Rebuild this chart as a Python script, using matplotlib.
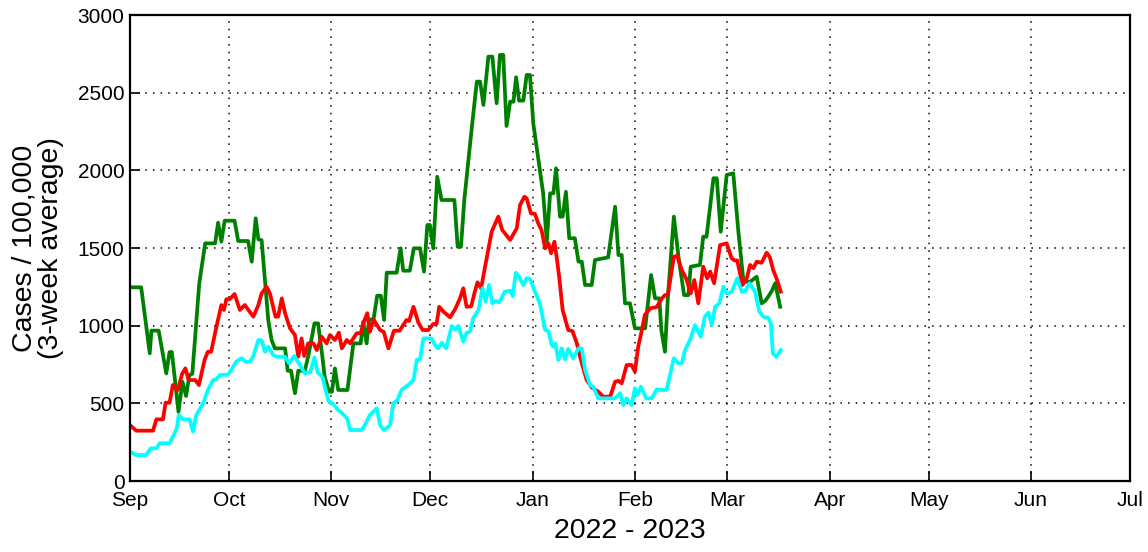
import numpy as np
import pandas as pd
import matplotlib
matplotlib.use("Agg")
import matplotlib.pyplot as plt
import matplotlib.dates as mdates

plt.rcParams['font.family'] = ['Liberation Sans', 'DejaVu Sans']

start = pd.Timestamp('2022-09-01')

# days after 1 Sep 2022
green_days = [0, 3.4, 6, 6.5, 8.7, 11, 12, 12.7, 14.7, 15.9, 17, 18, 18.9, 20, 21, 22.8, 25.8,
              26.7, 27.7, 28.7, 31.7, 32.8, 35.8, 36.9, 38.1, 38.9, 39.9, 41.9, 42.9, 43.9, 47,
              47.8, 48.8, 50, 51, 53, 54.2, 55.9, 57, 58.3, 59, 60.3, 61.2, 62.1, 63.1, 65.9,
              67.7, 69.9, 70.7, 71.7, 72.5, 73.8, 74.9, 76, 77, 77.8, 80.8, 82, 82.8, 84.8, 86,
              87.9, 89.1, 90.1, 90.9, 91.9, 93.1, 94.4, 98.3, 99.3, 100.3, 101.3, 103.5, 105.1,
              106.1, 107.1, 108.6, 109.8, 111.1, 112.1, 113.1, 114.1, 115.2, 116.2, 117, 117.9,
              119.2, 120.2, 121.2, 122.2, 125.2, 126.3, 127.3, 128.3, 129.1, 130.3, 131.1, 132.1,
              133.1, 134.8, 135.9, 136.9, 137.9, 139.9, 140.9, 144.9, 147, 148, 149, 150, 151.5,
              153, 156.1, 157.9, 159.1, 160.4, 161, 162.1, 163, 164.8, 166.2, 167.9, 169.2, 169.9,
              172.7, 173.7, 174.7, 176.8, 177.8, 179, 180.8, 182.8, 184.3, 185.9, 187.9, 189.9,
              191.4, 192.5, 193.4, 194.5, 195.5, 197]
green_vals = [1247, 1247, 822, 968, 968, 693, 830, 830, 446, 639, 547, 682, 690, 993, 1273, 1530, 1530,
              1663, 1541, 1676, 1676, 1545, 1545, 1412, 1691, 1556, 1550, 1037, 908, 854, 854,
              710, 710, 565, 710, 710, 822, 1015, 1015, 800, 671, 575, 575, 725, 586, 586,
              886, 886, 1026, 886, 1040, 1040, 1193, 1193, 1037, 1341, 1341, 1498, 1354, 1354, 1498,
              1498, 1348, 1648, 1648, 1498, 1959, 1809, 1809, 1508, 1508, 1809, 2260, 2571,
              2571, 2421, 2732, 2732, 2432, 2743, 2743, 2286, 2442, 2442, 2599, 2449,
              2449, 2614, 2614, 2303, 1852, 1541, 1852, 1852, 2013, 1702, 1702, 1862,
              1563, 1563, 1412, 1412, 1262, 1262, 1423, 1440, 1766, 1455, 1455, 1144, 1144,
              983, 983, 1326, 1176, 1176, 972, 832, 1187, 1702, 1444, 1197, 1197, 1380,
              1391, 1573, 1573, 1949, 1949, 1605, 1970, 1981, 1616, 1283, 1283, 1315,
              1144, 1160, 1187, 1225, 1273, 1122]

red_days = [0, 1.9, 7, 8, 10, 10.8, 12, 13, 14.5, 15.8, 16.8, 17.8, 19.8, 20.9, 22.6, 23.6, 24.6,
            26.2, 27.7, 28.5, 29.2, 30.2, 31.7, 33.3, 34.8, 37.4, 38.9, 39.9, 41.4, 42.4, 44.1,
            44.9, 46, 47, 48.5, 50, 51, 52, 52.8, 54, 55.6, 56.6, 58.1, 59.6, 60.6, 62.1, 63.3,
            64.2, 65.7, 66.7, 68.7, 69.9, 70.9, 71.9, 72.7, 73.9, 75.8, 76.9, 78.3, 80, 81.7,
            83.8, 84.6, 85.9, 87.4, 88.7, 90.4, 91.9, 92.9, 93.7, 95, 97, 98.5, 100, 101, 102,
            103.4, 104.5, 105.3, 106.4, 107.6, 109.6, 111.6, 112.8, 115.2, 117.2, 118.2, 119.5,
            120.2, 121.5, 122.7, 123.7, 124.7, 125.8, 126.8, 127.6, 128.6, 129.3, 130.1, 131.1,
            132.8, 134.1, 135.4, 136.9, 138.4, 139.9, 141.9, 143.4, 145.5, 147, 148, 149, 150.5,
            152, 153, 154, 155, 156, 157.6, 159.6, 161.2, 162.1, 163, 164.8, 165.8, 167.2, 168.5,
            169.9, 171, 172.2, 173.7, 174.9, 175.8, 177, 178.8, 180.8, 182.3, 183.2, 184, 185.6,
            186.9, 187.9, 188.9, 189.9, 191.4, 192.9, 193.9, 194.9, 195.9, 197.2]
red_vals = [360, 324, 324, 397, 397, 504, 504, 618, 586, 689, 725, 650, 650, 618, 779, 832, 832,
            993, 1133, 1101, 1170, 1170, 1204, 1101, 1133, 1058, 1133, 1208, 1251, 1208, 1058,
            1058, 1176, 1080, 983, 940, 800, 918, 805, 886, 886, 843, 929, 886, 940, 908, 955,
            854, 908, 886, 951, 951, 1026, 1080, 961, 1037, 972, 960, 854, 968, 968,
            1037, 1030, 1122, 1019, 972, 972, 1011, 1011, 1122, 1090, 1054, 1105, 1176, 1241, 1122,
            1125, 1219, 1279, 1241, 1380, 1605, 1702, 1616, 1552, 1627, 1777, 1830,
            1820, 1723, 1720, 1659, 1616, 1498, 1530, 1466, 1541, 1440, 1305, 1101,
            972, 965, 886, 758, 650, 603, 575, 543, 543, 639, 645, 629, 747,
            747, 704, 865, 961, 1069, 1112, 1120, 1176, 1197, 1200, 1444, 1450, 1358, 1305,
            1208, 1294, 1144, 1380, 1305, 1348, 1273, 1519, 1530, 1434, 1420, 1420, 1262,
            1305, 1391, 1370, 1412, 1405, 1470, 1440, 1358, 1305, 1219]

cyan_days = [0, 1.9, 4.9, 6.3, 8, 9, 12, 13.5, 14.2, 14.8, 16.1, 18.1, 19.1, 20.1, 21.1, 22.1,
             23.6, 25.2, 26.2, 27.2, 29.7, 31.2, 32.2, 33.8, 35.3, 36.4, 37.4, 38.9, 39.9, 40.9,
             41.9, 43.4, 44.5, 47, 48.2, 49.8, 51, 53, 54.6, 55.9, 56.9, 58.3, 60.1, 61.6, 63.1,
             64.1, 65.8, 66.7, 70.2, 71.2, 72.7, 74.8, 75.8, 77, 78.8, 79.8, 81, 82.3, 84.3, 85.9,
             86.9, 87.9, 88.9, 91.4, 92.4, 93.4, 94.5, 95.8, 97.5, 98.5, 99.5, 101, 102, 103,
             104, 105.6, 106.8, 107.8, 108.8, 109.8, 110.8, 111.9, 113.6, 115.2, 116, 116.9,
             117.9, 119.2, 120.2, 121.2, 122.5, 124.2, 125.8, 126.8, 127.8, 128.3, 128.9, 129.8,
             130.8, 131.8, 132.8, 134.3, 135.9, 136.9, 137.9, 139.4, 140.4, 141.9, 144.5, 147,
             148.5, 149.5, 150.5, 152, 153, 153.8, 154.8, 156.4, 158.1, 159.6, 160.6, 162.6,
             164.8, 166.2, 167.2, 168.2, 169.7, 171.2, 172.9, 174.2, 175.3, 176.3, 177.3, 178.6,
             179.8, 180.8, 182.3, 184, 185.4, 186.4, 187.7, 189.4, 190.7, 191.9, 193.4, 194.2,
             194.8, 195.9, 197.2]
cyan_vals = [189, 167, 167, 210, 210, 243, 243, 307, 340, 425, 397, 397, 318, 425, 461, 497,
             586, 650, 655, 682, 685, 732, 768, 790, 765, 770, 805, 908, 905, 832,
             865, 811, 800, 800, 758, 805, 765, 693, 700, 796, 697, 671, 517, 496, 457,
             440, 404, 328, 328, 360, 425, 468, 360, 328, 360, 500, 520, 586, 618, 650,
             779, 785, 918, 918, 876, 854, 890, 854, 998, 975, 998, 897, 955, 960,
             1047, 1101, 1241, 1155, 1262, 1144, 1160, 1150, 1219, 1225, 1191, 1341,
             1315, 1262, 1305, 1300, 1230, 1144, 972, 965, 876, 865, 885, 779,
             854, 783, 850, 790, 854, 854, 715, 618, 605, 532, 532, 532,
             565, 489, 532, 489, 597, 555, 607, 532, 532, 590, 586, 586,
             790, 758, 758, 843, 908, 1004, 929, 1058, 1084, 1004, 1122, 1144,
             1251, 1208, 1215, 1305, 1219, 1222, 1273, 1219, 1090, 1058, 1050, 1015,
             822, 800, 843]

month_ticks = pd.date_range('2022-09-01', '2023-07-01', freq='MS')


def to_dates(days):
    return start + pd.to_timedelta(np.array(days), unit='D')


fig = plt.figure(figsize=(11.48, 5.52), dpi=100)
ax = fig.add_axes([0.1132, 0.1286, 0.8711, 0.8442])

ax.plot(to_dates(green_days), green_vals, color='#008000', lw=2.7)
ax.plot(to_dates(red_days), red_vals, color='#ff0000', lw=2.7)
ax.plot(to_dates(cyan_days), cyan_vals, color='#00ffff', lw=2.7)

ax.set_xlim(month_ticks[0], month_ticks[-1])
ax.set_ylim(0, 3000)
ax.set_xticks(month_ticks)
ax.xaxis.set_major_formatter(mdates.DateFormatter('%b'))
ax.set_yticks(np.arange(0, 3001, 500))

ax.grid(True, color='black', linestyle=(0, (1, 4)), linewidth=1.1)
ax.tick_params(direction='in', length=7, width=1.2, labelsize=15)
ax.tick_params(axis='x', pad=7)
ax.tick_params(axis='y', pad=4)
for s in ax.spines.values():
    s.set_linewidth(1.6)

ax.set_xlabel('2022 - 2023', fontsize=20.5, labelpad=6)
ax.set_ylabel('Cases / 100,000\n(3-week average)', fontsize=20.5, labelpad=10, linespacing=1.0)

fig.savefig('out.png', dpi=100)
